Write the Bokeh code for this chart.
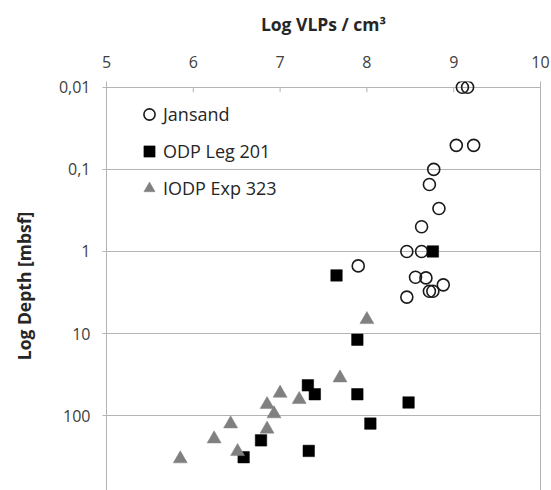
from bokeh.plotting import figure
from bokeh.models import FixedTicker, LinearAxis, Legend, LegendItem, Range1d
from bokeh.embed import file_html
from bokeh.resources import INLINE

# ---- data ----
jansand_x = [9.10, 9.16, 9.03, 9.23, 8.77, 8.72, 8.83, 8.63, 8.46, 8.63, 7.90,
             8.56, 8.68, 8.88, 8.72, 8.76, 8.46]
jansand_depth = [0.01, 0.01, 0.051, 0.051, 0.10, 0.153, 0.30, 0.50, 1.0, 1.0, 1.5,
                 2.06, 2.10, 2.55, 3.05, 3.05, 3.6]

odp_x = [8.76, 7.65, 7.89, 7.32, 7.40, 7.89, 8.48, 8.04, 6.78, 7.33, 6.58]
odp_depth = [1.0, 1.96, 11.9, 42.7, 54.9, 54.9, 69.2, 125, 200, 269, 321]

iodp_x = [8.00, 7.69, 7.00, 7.22, 6.85, 6.93, 6.43, 6.85, 6.24, 6.51, 5.85]
iodp_depth = [6.76, 34.7, 53.3, 63.7, 73.3, 95, 126, 146, 192, 274, 336]

series_names = ["Jansand", "ODP Leg 201", "IODP Exp 323"]

x_ticks = [5, 6, 7, 8, 9, 10]
y_ticks = [0.01, 0.1, 1, 10, 100]
y_tick_labels = ["0,01", "0,1", "1", "10", "100"]

x_title = "Log VLPs / cm³"
y_title = "Log Depth [mbsf]"

FONT = "Open Sans"
GRAY = "#b4b4b4"

p = figure(width=551, height=490,
           x_range=Range1d(5, 10), y_range=Range1d(817, 0.0085),
           y_axis_type="log", x_axis_location="above",
           output_backend="svg", toolbar_location=None,
           min_border_left=106, min_border_right=11,
           min_border_top=81, min_border_bottom=0)
p.outline_line_color = None
p.background_fill_color = "white"
p.border_fill_color = "white"

# x axis (top) - axis line is the 0.01 gridline; tick marks drawn below
xa = p.xaxis[0]
xa.ticker = FixedTicker(ticks=x_ticks, minor_ticks=[])
xa.axis_line_color = None
xa.major_tick_line_color = None
xa.major_tick_in = 0
xa.major_tick_out = 0
xa.minor_tick_line_color = None
xa.major_label_standoff = 14
xa.major_label_text_font = FONT
xa.major_label_text_font_size = "16px"
xa.major_label_text_color = "#404040"
xa.axis_label = x_title
xa.axis_label_text_font = FONT
xa.axis_label_text_font_size = "17.5px"
xa.axis_label_text_font_style = "bold"
xa.axis_label_text_color = "#262626"
xa.axis_label_standoff = 17

# y axis (left)
ytk = FixedTicker(ticks=y_ticks, minor_ticks=[])
ya = p.yaxis[0]
ya.ticker = ytk
ya.major_label_overrides = {t: l for t, l in zip(y_ticks, y_tick_labels)}
ya.axis_line_color = GRAY
ya.major_tick_line_color = GRAY
ya.major_tick_in = 0
ya.major_tick_out = 4
ya.minor_tick_line_color = None
ya.major_label_standoff = 12
ya.major_label_text_font = FONT
ya.major_label_text_font_size = "16px"
ya.major_label_text_color = "#404040"
ya.axis_label = y_title
ya.axis_label_text_font = FONT
ya.axis_label_text_font_size = "17.5px"
ya.axis_label_text_font_style = "bold"
ya.axis_label_text_color = "#262626"
ya.axis_label_standoff = 20

# right border line
ra = LinearAxis(ticker=FixedTicker(ticks=[]), axis_line_color=GRAY,
                major_tick_line_color=None, minor_tick_line_color=None,
                major_tick_out=0, major_tick_in=0, major_label_standoff=0)
p.add_layout(ra, "right")

p.xgrid.visible = False
p.ygrid.ticker = ytk
p.ygrid.grid_line_color = GRAY
p.ygrid.grid_line_width = 1

# small inward tick marks of the top axis, hanging below the 0.01 line
inner = x_ticks[1:-1]
p.segment(x0=inner, x1=inner, y0=[y_ticks[0]] * len(inner),
          y1=[y_ticks[0] * 1.15] * len(inner), line_color=GRAY, line_width=1)

r1 = p.scatter(jansand_x, jansand_depth, marker="circle", size=12,
               fill_color=None, line_color="#1a1a1a", line_width=1.6)
r2 = p.scatter(odp_x, odp_depth, marker="square", size=11.5,
               fill_color="black", line_color="black", line_width=0.5)
r3 = p.scatter(iodp_x, iodp_depth, marker="triangle", size=14,
               fill_color="#808080", line_color="#808080", line_width=0.5)

legend = Legend(items=[LegendItem(label=series_names[0], renderers=[r1]),
                       LegendItem(label=series_names[1], renderers=[r2]),
                       LegendItem(label=series_names[2], renderers=[r3])],
                location=(29, 287), orientation="vertical",
                border_line_color=None, background_fill_alpha=0,
                padding=0, margin=0, spacing=7,
                glyph_width=28, glyph_height=30, label_height=30,
                label_standoff=0, label_text_font=FONT,
                label_text_font_size="18px", label_text_color="#262626")
p.add_layout(legend)

open("out.html", "w").write(file_html(p, INLINE))
